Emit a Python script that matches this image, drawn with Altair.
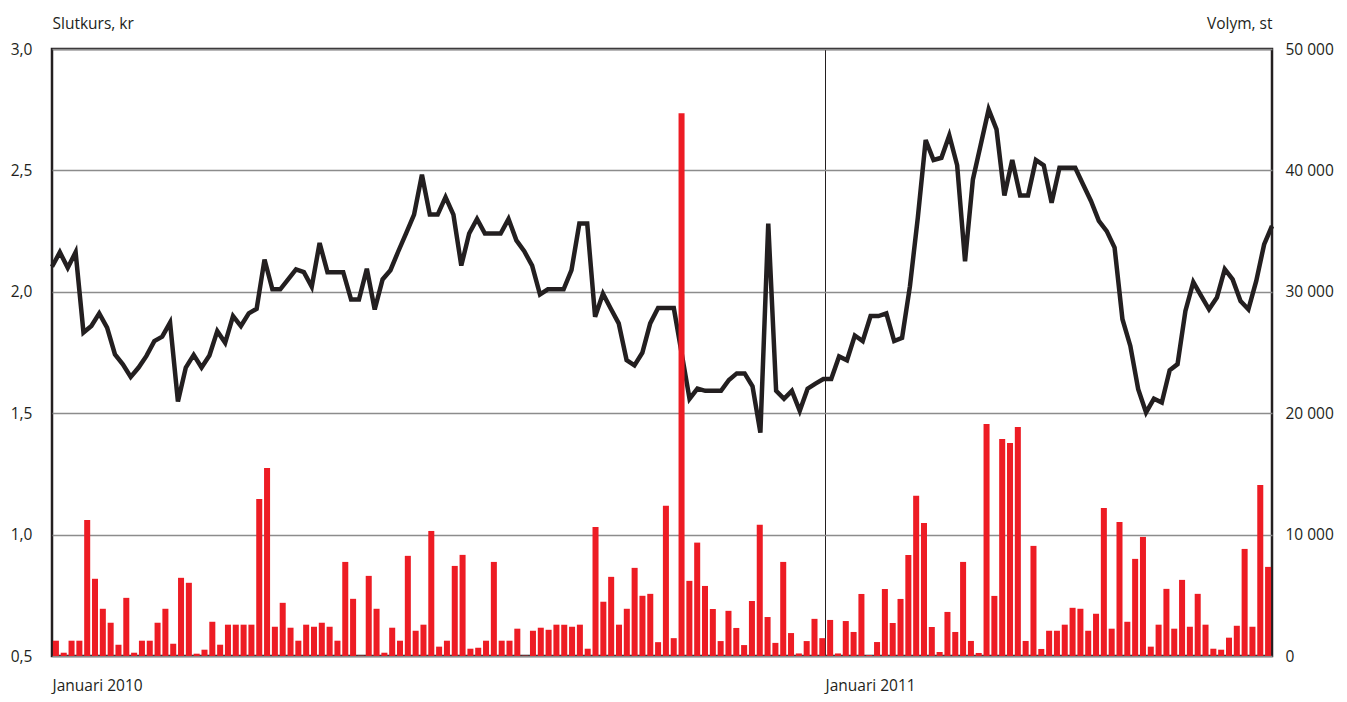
import altair as alt
import pandas as pd

# Weekly-ish observations, Jan 2010 onwards
volume = [1260, 270, 1260, 1260, 11200, 6360, 3890, 2740, 930, 4790,
          270, 1260, 1260, 2740, 3890, 1010, 6440, 6030, 190, 520,
          2820, 930, 2580, 2580, 2580, 2580, 12930, 15480, 2410, 4380,
          2330, 1260, 2580, 2410, 2740, 2410, 1260, 7750, 4710, 30,
          6600, 3890, 270, 2330, 1260, 8250, 2080, 2580, 10300, 770,
          1260, 7420, 8330, 600, 680, 1260, 7750, 1260, 1260, 2250,
          30, 2080, 2330, 2160, 2580, 2580, 2410, 2580, 600, 10630,
          4470, 6520, 2580, 3890, 7260, 4960, 5120, 1140, 12370, 1470,
          44700, 6190, 9340, 5770, 3870, 1230, 3720, 2310, 900, 4530,
          10810, 3210, 1080, 7750, 1890, 210, 1230, 3060, 1470, 2970,
          210, 2880, 1980, 5110, 80, 1150, 5520, 2720, 4700, 8320,
          13190, 10960, 2390, 330, 3630, 1980, 7750, 1240, 250, 19120,
          4950, 17880, 17550, 18870, 1240, 9070, 580, 2080, 2080, 2580,
          3970, 3890, 2080, 3480, 12190, 2250, 11040, 2820, 8000, 9810,
          770, 2580, 5530, 2250, 6270, 2410, 5120, 2580, 600, 520,
          1510, 2490, 8820, 2410, 14080, 7340]

price = [2.103, 2.163, 2.099, 2.163, 1.832, 1.859, 1.911, 1.852, 1.742, 1.701,
         1.649, 1.688, 1.736, 1.797, 1.815, 1.873, 1.548, 1.688, 1.740, 1.688,
         1.738, 1.838, 1.790, 1.900, 1.859, 1.911, 1.930, 2.133, 2.010, 2.010,
         2.051, 2.092, 2.081, 2.021, 2.201, 2.081, 2.081, 2.081, 1.968, 1.968,
         2.095, 1.927, 2.051, 2.089, 2.167, 2.242, 2.318, 2.482, 2.318, 2.318,
         2.390, 2.318, 2.108, 2.240, 2.300, 2.240, 2.240, 2.240, 2.300, 2.212,
         2.167, 2.108, 1.989, 2.010, 2.010, 2.010, 2.089, 2.281, 2.281, 1.897,
         1.992, 1.930, 1.870, 1.719, 1.697, 1.749, 1.870, 1.933, 1.933, 1.933,
         1.746, 1.559, 1.601, 1.592, 1.592, 1.592, 1.637, 1.664, 1.664, 1.611,
         1.420, 2.281, 1.592, 1.559, 1.592, 1.510, 1.601, 1.622, 1.641, 1.641,
         1.734, 1.718, 1.820, 1.797, 1.900, 1.900, 1.911, 1.797, 1.810, 2.023,
         2.305, 2.625, 2.543, 2.552, 2.644, 2.521, 2.126, 2.463, 2.607, 2.751,
         2.669, 2.397, 2.543, 2.397, 2.397, 2.543, 2.521, 2.367, 2.511, 2.511,
         2.511, 2.442, 2.374, 2.292, 2.250, 2.182, 1.887, 1.777, 1.599, 1.503,
         1.560, 1.544, 1.677, 1.702, 1.921, 2.040, 1.983, 1.928, 1.976, 2.093,
         2.051, 1.962, 1.928, 2.045, 2.195, 2.271]

x_labels = ["Januari 2010", "Januari 2011"]
x_label_pos = [0, 98.85]          # in bar-index units
price_ticks = [0.5, 1.0, 1.5, 2.0, 2.5, 3.0]
volume_ticks = [0, 10000, 20000, 30000, 40000, 50000]

n = len(volume)
bars_df = pd.DataFrame({
    "i": list(range(n)),
    "start": [i + 0.115 for i in range(n)],
    "end": [i + 0.885 for i in range(n)],
    "volume": volume,
})
line_df = pd.DataFrame({"k": list(range(len(price))), "price": price})

FONT = "Open Sans"
INK = "#231f20"

line = alt.Chart(line_df).mark_line(color=INK, strokeWidth=4.5).encode(
    x=alt.X("k:Q", scale=alt.Scale(domain=[0, len(price) - 1], nice=False, zero=False), axis=None),
    y=alt.Y("price:Q",
            scale=alt.Scale(domain=[price_ticks[0], price_ticks[-1]], nice=False, zero=False),
            axis=alt.Axis(orient="left", values=price_ticks,
                          labelExpr="replace(format(datum.value, '.1f'), '.', ',')",
                          title="Slutkurs, kr", titleAngle=0, titleAlign="left",
                          titleBaseline="middle", titleX=0, titleY=-26,
                          grid=True, gridColor="#8c8c8c", gridWidth=1.3,
                          tickSize=0, labelPadding=20, domain=False)),
)

label_expr = f"datum.value < {x_label_pos[1] / 2} ? '{x_labels[0]}' : '{x_labels[1]}'"

bars = alt.Chart(bars_df).mark_rect(color="#ED1C24").encode(
    x=alt.X("start:Q", scale=alt.Scale(domain=[0, n], nice=False, zero=False),
            axis=alt.Axis(orient="bottom", values=x_label_pos, labelExpr=label_expr,
                          grid=True, gridColor=INK, gridWidth=1, tickSize=0,
                          labelAlign="left", labelPadding=22, labelOverlap=False,
                          labelFlush=False, domain=False, title=None)),
    x2="end:Q",
    y=alt.Y("volume:Q",
            scale=alt.Scale(domain=[volume_ticks[0], volume_ticks[-1]], nice=False),
            axis=alt.Axis(orient="right", values=volume_ticks,
                          labelExpr="replace(format(datum.value, ','), ',', ' ')",
                          title="Volym, st", titleAngle=0, titleAlign="right",
                          titleBaseline="middle", titleX=0, titleY=-26,
                          grid=False, tickSize=0, labelPadding=13, domain=False)),
    y2=alt.datum(0),
)

chart = alt.layer(line, bars).resolve_scale(
    x="independent", y="independent"
).properties(
    width=1220, height=607,
    padding={"left": 2, "top": 8, "right": 0, "bottom": 0},
).configure_view(
    stroke=INK, strokeWidth=2.5
).configure_axis(
    labelFont=FONT, labelFontSize=15.5, labelColor=INK,
    titleFont=FONT, titleFontSize=15.5, titleColor=INK, titleFontWeight="normal",
)

chart.save("out.html", embed_options={"renderer": "svg", "actions": False})
